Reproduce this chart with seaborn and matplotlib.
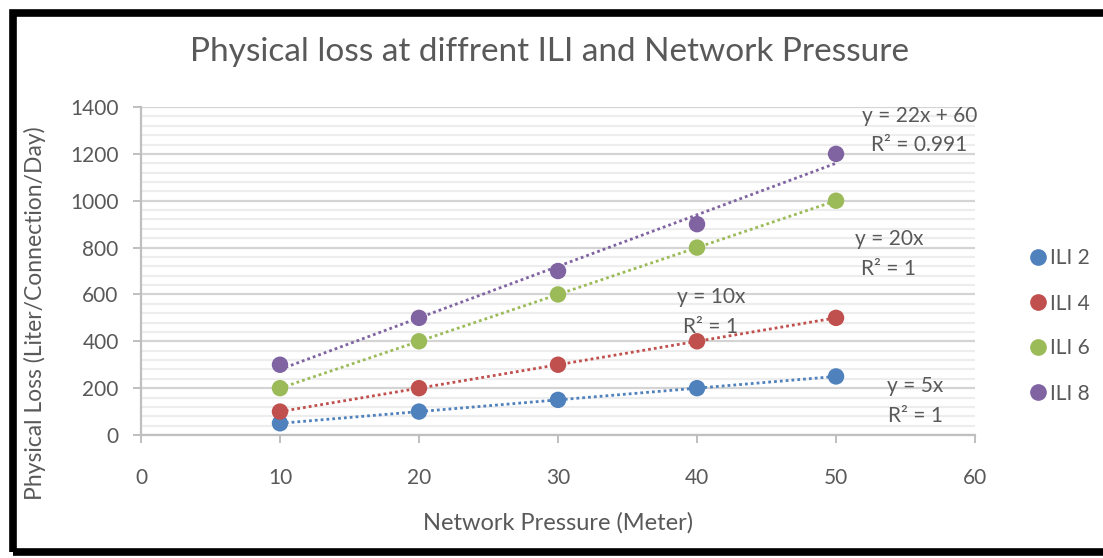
import numpy as np
import pandas as pd
import matplotlib
matplotlib.use("Agg")
import matplotlib.pyplot as plt
from matplotlib.ticker import MultipleLocator
from matplotlib.patches import Rectangle
from matplotlib.lines import Line2D
import seaborn as sns

# ---- data ----
pressure = [10, 20, 30, 40, 50]
series_names = ["ILI 2", "ILI 4", "ILI 6", "ILI 8"]
ili2 = [50, 100, 150, 200, 250]
ili4 = [100, 200, 300, 400, 500]
ili6 = [200, 400, 600, 800, 1000]
ili8 = [300, 500, 700, 900, 1200]
colors = ["#4F81BD", "#C0504D", "#9BBB59", "#8064A2"]
trend_labels = ["y = 5x\nR² = 1", "y = 10x\nR² = 1", "y = 20x\nR² = 1", "y = 22x + 60\nR² = 0.991"]
label_pos = [(55.7, 145), (41.0, 525), (53.8, 772), (56.0, 1300)]

df = pd.DataFrame({
    "Pressure": pressure * 4,
    "Loss": ili2 + ili4 + ili6 + ili8,
    "Series": sum([[n] * 5 for n in series_names], []),
})

sns.set_theme(style="white")
plt.rcParams["font.family"] = ["Lato", "DejaVu Sans"]
txt = "#595959"

fig = plt.figure(figsize=(11.03, 5.58), dpi=100)
ax = fig.add_axes([0.1278, 0.2204, 0.884 - 0.1278, 0.8082 - 0.2204])

# gridlines
ax.yaxis.set_major_locator(MultipleLocator(200))
ax.yaxis.set_minor_locator(MultipleLocator(40))
ax.xaxis.set_major_locator(MultipleLocator(10))
ax.grid(which="minor", axis="y", color="#EDEDED", lw=1.6, zorder=0)
ax.grid(which="major", axis="y", color="#D4D4D4", lw=1.6, zorder=0)
ax.grid(axis="x", visible=False)
ax.set_axisbelow(True)

# trend lines
for name, c in zip(series_names, colors):
    sub = df[df["Series"] == name]
    m, b = np.polyfit(sub["Pressure"], sub["Loss"], 1)
    xs = np.array([sub["Pressure"].min(), sub["Pressure"].max()])
    ax.plot(xs, m * xs + b, ls=(0, (1, 1.1)), lw=2.0, color=c, zorder=2)

sns.scatterplot(data=df, x="Pressure", y="Loss", hue="Series", palette=colors,
                s=140, edgecolor="none", ax=ax, legend=False, zorder=3)

for t, (x, y) in zip(trend_labels, label_pos):
    ax.text(x, y, t, ha="center", va="center", fontsize=15, color=txt,
            linespacing=1.6)

ax.set_xlim(0, 60)
ax.set_ylim(0, 1400)
ax.set_xlabel("")
ax.set_ylabel("")
for s in ["top", "right"]:
    ax.spines[s].set_visible(False)
for s in ["left", "bottom"]:
    ax.spines[s].set_color("#BFBFBF")
    ax.spines[s].set_linewidth(1.6)
ax.tick_params(axis="both", which="major", direction="out", length=6, width=1.4,
               color="#BFBFBF", labelsize=15, labelcolor=txt)
ax.tick_params(axis="y", which="minor", length=0)
ax.tick_params(axis="y", pad=10)
ax.tick_params(axis="x", pad=18)
ax.tick_params(left=True, bottom=True)

fig.text(550 / 1103, 1 - 52 / 558, "Physical loss at diffrent ILI and Network Pressure",
         ha="center", va="center", fontsize=24, color=txt)
fig.text(558 / 1103, 1 - 523 / 558, "Network Pressure (Meter)",
         ha="center", va="center", fontsize=17, color=txt)
fig.text(35 / 1103, 1 - 313 / 558, "Physical Loss (Liter/Connection/Day)",
         ha="center", va="center", rotation=90, fontsize=16.5, color=txt)

handles = [Line2D([], [], marker="o", ls="none", color=c, markersize=11) for c in colors]
leg = fig.legend(handles, series_names, loc="center left",
                 bbox_to_anchor=(1015 / 1103, 1 - 326 / 558), frameon=False,
                 fontsize=15, labelspacing=1.2, handletextpad=0.0,
                 handlelength=1.2, borderpad=0)
for t in leg.get_texts():
    t.set_color(txt)

# outer black frame
fig.patches.append(Rectangle((12.5 / 1103, 1 - 551.5 / 558), 1.2, (551.5 - 12.5) / 558,
                             transform=fig.transFigure, fill=False, ec="black", lw=5.5))

fig.savefig("out.png", dpi=100)
